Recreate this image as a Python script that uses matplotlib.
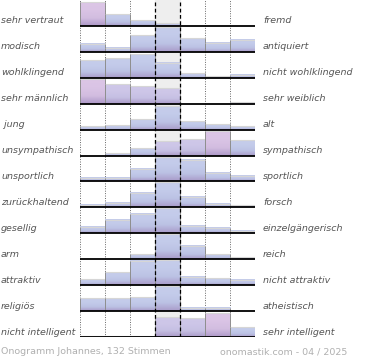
import numpy as np
import matplotlib
matplotlib.use("Agg")
import matplotlib.pyplot as plt
from matplotlib.colors import LinearSegmentedColormap
from matplotlib.transforms import blended_transform_factory

# Onogramm data: share per scale step (0..100, row max ~100)
left_labels = ["sehr vertraut", "modisch", "wohlklingend", "sehr männlich", " jung",
               "unsympathisch", "unsportlich", "zurückhaltend", "gesellig", "arm",
               "attraktiv", "religiös", "nicht intelligent"]
right_labels = ["fremd", "antiquiert", "nicht wohlklingend", "sehr weiblich", "alt",
                "sympathisch", "sportlich", "forsch", "einzelgängerisch", "reich",
                "nicht attraktiv", "atheistisch", "sehr intelligent"]
values = [
    [96, 47, 23, 11, 0, 0, 0],
    [33, 17, 67, 100, 55, 37, 49],
    [71, 79, 95, 61, 19, 8, 13],
    [99, 77, 72, 63, 0, 0, 5],
    [16, 20, 41, 96, 33, 23, 15],
    [0, 11, 31, 60, 68, 97, 63],
    [13, 13, 51, 100, 87, 35, 23],
    [11, 19, 59, 100, 41, 13, 8],
    [25, 55, 77, 100, 31, 23, 9],
    [0, 0, 20, 100, 55, 20, 7],
    [24, 51, 97, 100, 33, 27, 21],
    [51, 51, 56, 100, 13, 13, 0],
    [3, 3, 3, 80, 75, 96, 40],
]
footer_left = "Onogramm Johannes, 132 Stimmen"
footer_right = "onomastik.com - 04 / 2025"

# styling: which bars are tinted pink
strong_pink = {(0, 0), (3, 0), (5, 5), (12, 5)}
light_pink = {(3, 1), (3, 2), (3, 3), (5, 3), (5, 4), (12, 3), (12, 4)}

cm_blue = LinearSegmentedColormap.from_list("b", ["#a99bc9", "#bcc2e4", "#c3cbea", "#c6cdeb"])
cm_pink = LinearSegmentedColormap.from_list("p", ["#ad98c8", "#d2bde0", "#dac4e5", "#dcc6e6"])
cm_mid = LinearSegmentedColormap.from_list("m", ["#aa9ac8", "#c6c0e3", "#cdc6e8", "#cfc8e8"])

W, H = 370, 360
fig = plt.figure(figsize=(W / 100, H / 100), dpi=100)
ax = fig.add_axes([80 / W, (H - 337) / H, 175 / W, 337 / H])
nrows, ncols = len(values), 7
scale = 25 / 26 / 100

ax.axvspan(3, 4, color="#eeeeee", zorder=0)
for xv in [0, 1, 2, 5, 6, 7]:
    ax.axvline(xv, color="#666666", ls=(0, (1, 1.5)), lw=0.7, zorder=1)

grad = np.linspace(0, 1, 64).reshape(-1, 1)
for i, row in enumerate(values):
    base = nrows - 1 - i
    for j, v in enumerate(row):
        h = v * scale
        if h <= 0:
            continue
        cm = cm_pink if (i, j) in strong_pink else cm_mid if (i, j) in light_pink else cm_blue
        ax.imshow(grad, cmap=cm, extent=(j, j + 1, base, base + h), origin="lower",
                  aspect="auto", zorder=2, interpolation="bilinear")
        ax.hlines(base + h, j, j + 1, color="#d6d6d6", lw=0.8, zorder=3)
        ax.vlines([j, j + 1], base, base + h, color="#8f8f8f", lw=0.7, zorder=3)
    ax.hlines(base, 0, 7, color="black", lw=1.3, zorder=4)

for xv in [3, 4]:
    ax.axvline(xv, color="black", ls=(0, (3, 2)), lw=0.9, zorder=5)

ax.set_xlim(0, 7)
ax.set_ylim(0, nrows)
ax.axis("off")

tr = blended_transform_factory(fig.transFigure, ax.transData)
for i in range(nrows):
    y = nrows - 1 - i + 5 / 26
    ax.text(1 / W, y, left_labels[i], transform=tr, ha="left", va="center",
            fontsize=6.8, style="italic", color="#555555")
    ax.text(263 / W, y, right_labels[i], transform=tr, ha="left", va="center",
            fontsize=6.8, style="italic", color="#555555")

fig.text(1 / W, 1 - 352 / H, footer_left, ha="left", va="center", fontsize=6.8, color="#b0b0b0")
fig.text(347 / W, 1 - 352 / H, footer_right, ha="right", va="center", fontsize=6.8, color="#b0b0b0")

fig.savefig("out.png", dpi=100)
